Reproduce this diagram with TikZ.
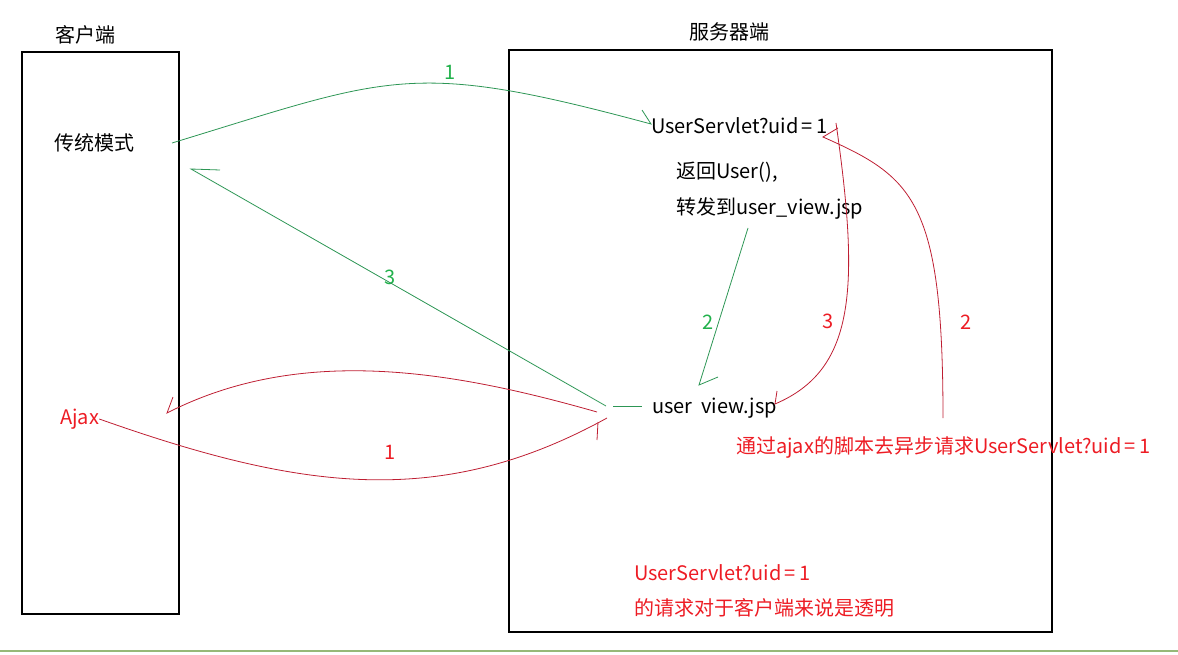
\documentclass[tikz,border=0pt]{standalone}
\usepackage{fontspec}
\setmainfont{Noto Sans CJK SC}
\usepackage{tikz}
\usetikzlibrary{positioning}

\definecolor{gline}{RGB}{45,150,85}
\definecolor{rline}{RGB}{190,30,50}
\definecolor{gtext}{RGB}{34,177,76}
\definecolor{rtext}{RGB}{237,28,36}
\definecolor{baseline}{RGB}{150,185,120}

\newcommand{\eqsign}{\,=\,}

\begin{document}
\begin{tikzpicture}[x=1pt,y=1pt,
	txt/.style={anchor=west,inner sep=0pt,font=\fontsize{20}{24}\selectfont},
	rtxt/.style={txt,text=rtext},
	num/.style={inner sep=0pt,font=\fontsize{20}{24}\selectfont},
	gnum/.style={num,text=gtext},
	rnum/.style={num,text=rtext},
	gpen/.style={draw=gline,line width=0.8pt},
	rpen/.style={draw=rline,line width=0.8pt},
	frame/.style={draw=black,line width=1.2pt}]

	\useasboundingbox (0,0) rectangle (1178,-655);

	% frames
	\draw[frame] (22,-52) rectangle (179,-614);
	\draw[frame] (509,-50) rectangle (1052,-632);
	\draw[draw=baseline,line width=1.5pt] (0,-651) -- (1178,-651);

	% texts
	\node[txt] (client) at (55,-35) {客户端};
	\node[txt] (server) at (689,-32) {服务器端};
	\node[txt] (trad) at (54,-143) {传统模式};
	\node[rtxt] (ajax) at (60,-419) {Ajax};
	\node[txt] (servlet) at (651,-126) {UserServlet?uid\eqsign1};
	\node[txt] (ret) at (676,-172) {返回User(),};
	\node[txt] (fwd) at ([yshift=-36]ret.west) {转发到user\_view.jsp};
	\node[txt] (view) at (652,-408) {user\ \ view.jsp};
	\node[rtxt] (note) at (736,-447) {通过ajax的脚本去异步请求UserServlet?uid\eqsign1};
	\node[rtxt] (memoa) at (634,-573) {UserServlet?uid\eqsign1};
	\node[rtxt] (memob) at ([yshift=-35]memoa.west) {的请求对于客户端来说是透明};

	% numbers
	\node[gnum] (g1) at (450,-72) {1};
	\node[gnum] (g3) at (390,-277) {3};
	\node[gnum] (g2) at (708,-322) {2};
	\node[rnum] (r3) at (828,-321) {3};
	\node[rnum] (r2) at (966,-322) {2};
	\node[rnum] (r1) at (390,-452) {1};

	% ends
	\coordinate (gas) at (172,-143);
	\coordinate (gae) at (651,-124);
	\coordinate (gbs) at (748,-228);
	\coordinate (gbe) at (699,-385);
	\coordinate (gcs) at (606,-406);
	\coordinate (gce) at (191,-169);
	\coordinate (ras) at (597,-412);
	\coordinate (rae) at (167,-413);
	\coordinate (rbe) at (607,-418);
	\coordinate (rcs) at (943,-418);
	\coordinate (rce) at (823,-137);
	\coordinate (rds) at (836,-123);
	\coordinate (rde) at (775,-404);

	% traditional mode
	\draw[gpen] (gas) .. controls (392,-76) and (410,-59) .. (gae) -- ++(-9,14);
	\draw[gpen] (gbs) -- (gbe) -- ++(19,8);
	\draw[gpen] (gcs) -- (gce) -- ++(29,-1);
	\draw[gpen] ([xshift=-39,yshift=2]view.west) -- ([xshift=-10,yshift=2]view.west);

	% ajax mode
	\draw[rpen] (ajax.east) .. controls (300,-490) and (440,-510) .. (rbe);
	\draw[rpen] ([xshift=-9,yshift=-4]rbe) -- ++(-1,-18);
	\draw[rpen] (rcs) .. controls (943,-200) and (913,-177) .. (rce) -- ++(15,9);
	\draw[rpen] (rds) .. controls (860,-290) and (855,-370) .. (rde) -- ++(2,13);
	\draw[rpen] (ras) .. controls (450,-370) and (300,-345) .. (rae) -- ++(6,16);
\end{tikzpicture}
\end{document}
